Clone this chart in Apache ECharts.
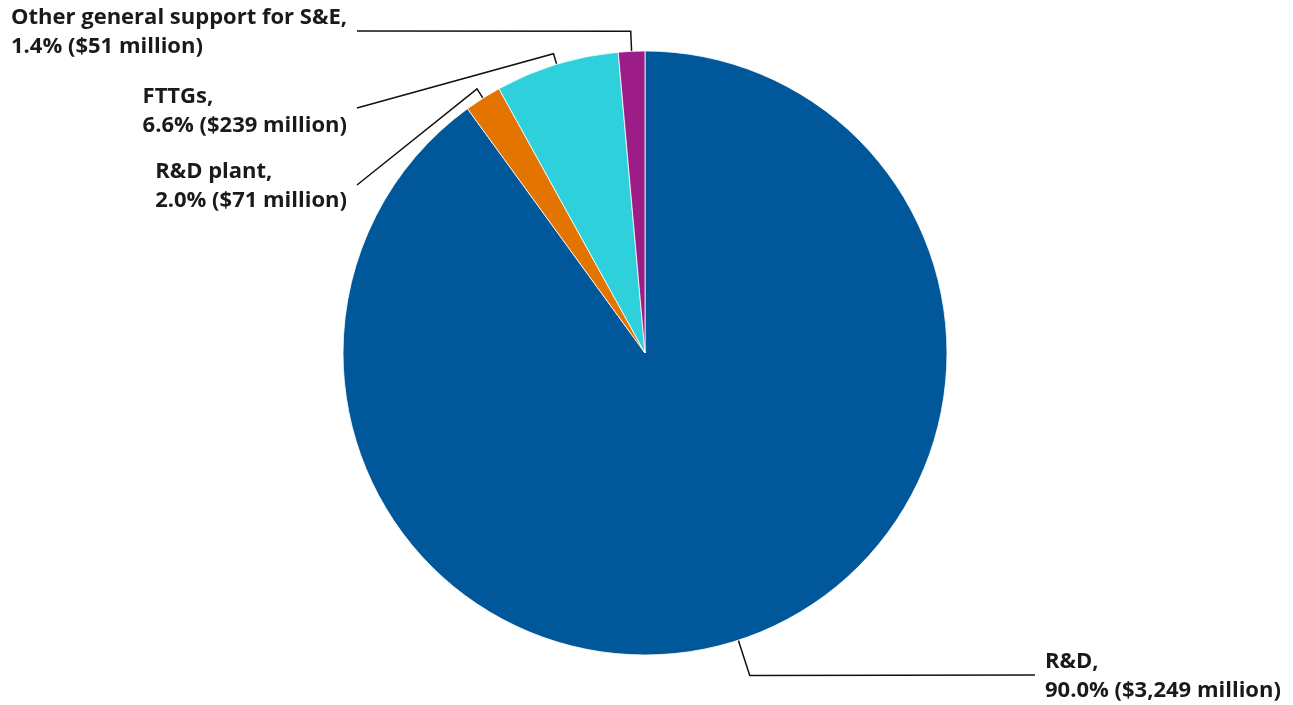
<!DOCTYPE html>
<html>
<head>
<meta charset="utf-8">
<script src="https://cdn.jsdelivr.net/npm/echarts@6/dist/echarts.min.js"></script>
<style>
html,body{margin:0;padding:0;background:#fff;}
#chart{width:1293px;height:705px;}
</style>
</head>
<body>
<div id="chart"></div>
<script>
// ---- data ----
var categories = ['R&D', 'R&D plant', 'FTTGs', 'Other general support for S&E'];
var amounts = [3249, 71, 239, 51]; // $ millions
var colors = ['#00589B', '#E37400', '#2ED1DB', '#9C1D87'];

// ---- layout (not data) ----
var CX = 645, CY = 353, R = 302;
var radialLen = [37, 11, 11, 20];          // first (radial) segment of each leader line
var anchorOffset = [[390, 322], [-288, -168], [-288, -245], [-288, -322]]; // leader line end, relative to centre
var labelShiftY = [1, 1, 3, 1];

var total = amounts.reduce(function (a, b) { return a + b; }, 0);
function fmtMoney(v) { return '$' + v.toLocaleString('en-US') + ' million'; }

var data = categories.map(function (c, i) {
  return { name: c, value: amounts[i], itemStyle: { color: colors[i] } };
});

var chart = echarts.init(document.getElementById('chart'));
chart.setOption({
  animation: false,
  series: [{
    type: 'pie',
    center: [CX, CY],
    radius: R,
    startAngle: 90,
    clockwise: true,
    avoidLabelOverlap: false,
    itemStyle: { borderColor: '#ffffff', borderWidth: 0.8 },
    emphasis: { disabled: true },
    data: data,
    label: {
      show: true,
      position: 'outside',
      formatter: function (p) {
        var pct = (p.value / total * 100).toFixed(1) + '%';
        return '{a|' + p.name + ',}\n{a|' + pct + ' (' + fmtMoney(p.value) + ')}';
      },
      rich: {
        a: {
          fontFamily: 'Open Sans',
          fontWeight: 'bold',
          fontSize: 22,
          lineHeight: 29.5,
          color: '#1a1a1a',
          align: 'left'
        }
      }
    },
    labelLine: {
      show: true,
      length: 10,
      length2: 0,
      lineStyle: { color: '#111', width: 1.5 }
    },
    labelLayout: function (params) {
      var i = params.dataIndex;
      var before = 0;
      for (var k = 0; k < i; k++) before += amounts[k];
      var mid = (before + amounts[i] / 2) / total * Math.PI * 2; // clockwise from top
      var dx = Math.sin(mid), dy = -Math.cos(mid);
      var p0 = [CX + dx * R, CY + dy * R];
      var p1 = [p0[0] + dx * radialLen[i], p0[1] + dy * radialLen[i]];
      var p2 = [CX + anchorOffset[i][0], CY + anchorOffset[i][1]];
      var isRight = anchorOffset[i][0] > 0;
      return {
        x: p2[0] + (isRight ? 10 : -10),
        y: p2[1] + labelShiftY[i],
        align: isRight ? 'left' : 'right',
        verticalAlign: 'middle',
        labelLinePoints: [p0, p1, p2]
      };
    }
  }]
});
</script>
</body>
</html>
